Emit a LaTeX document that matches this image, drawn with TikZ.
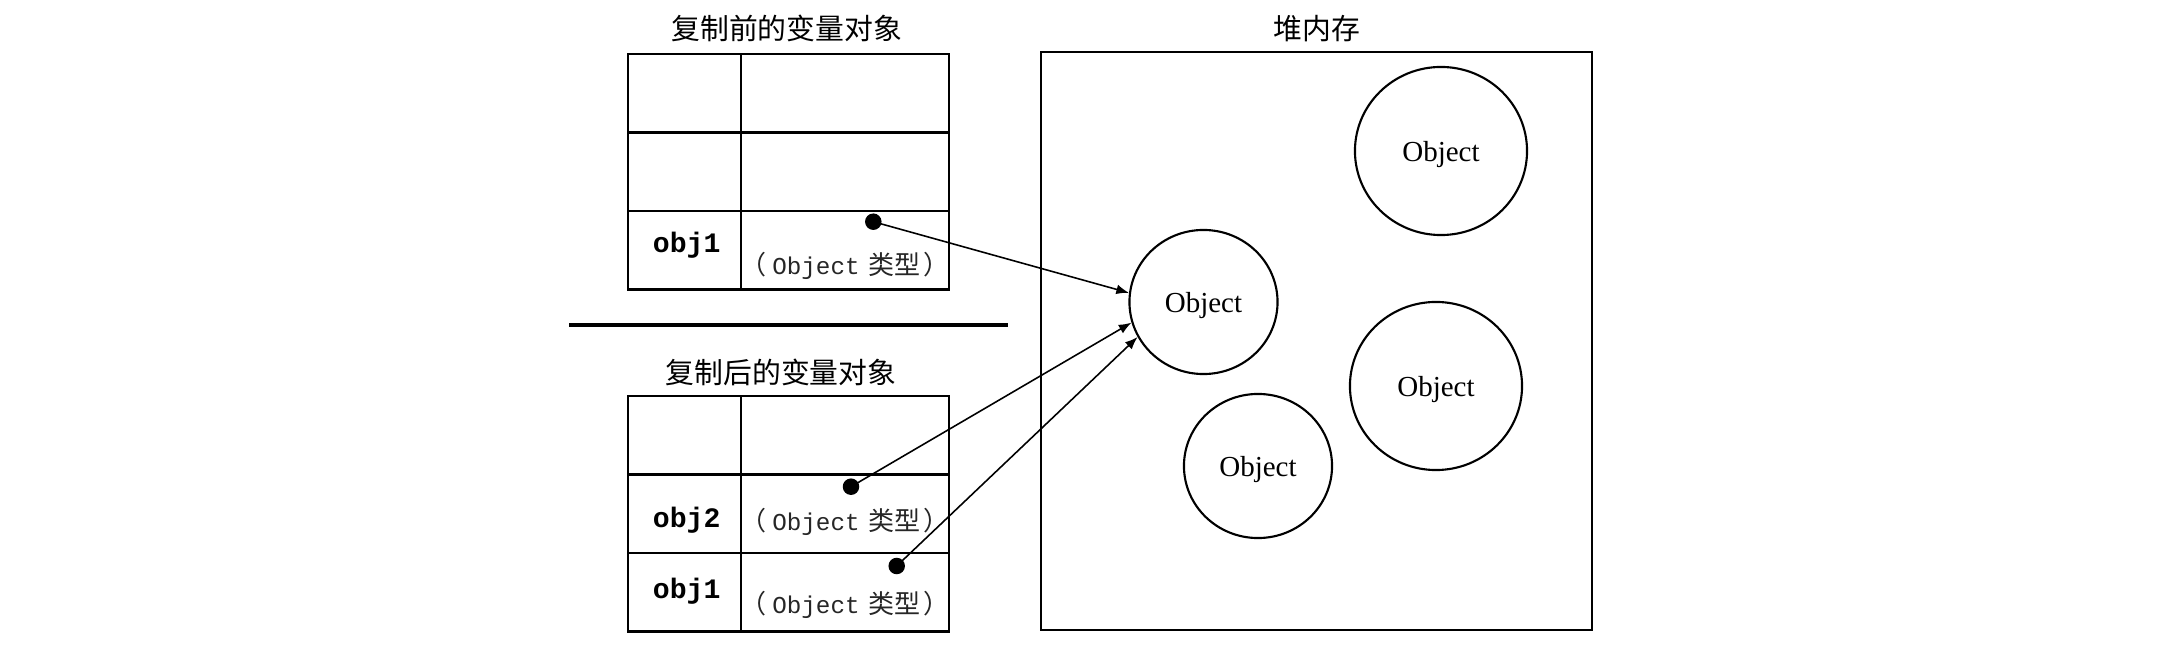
\documentclass[tikz,border=0pt]{standalone}
\usepackage{fontspec}
\setmainfont{Liberation Serif}
\newfontfamily\cjk{Noto Sans CJK SC}
\newfontfamily\monof{Liberation Mono}
\usetikzlibrary{shapes.geometric,arrows.meta}
\newcommand\objtypetxt{{\cjk\fontsize{7.4pt}{9pt}\selectfont （}\hspace{1.5pt}{\monof\fontsize{6.9pt}{9pt}\selectfont Object}\hspace{2.5pt}{\cjk\fontsize{7.4pt}{9pt}\selectfont 类型}\hspace{1pt}{\cjk\fontsize{7.4pt}{9pt}\selectfont ）}}
\begin{document}
\begin{tikzpicture}[x=0.01cm,y=-0.01cm,
  cell/.style={draw, line width=0.6pt, inner sep=0pt, minimum height=0.785cm},
  lcell/.style={cell, minimum width=1.127cm},
  rcell/.style={cell, minimum width=2.083cm},
  title/.style={inner sep=0pt, font=\cjk\fontsize{8.2pt}{9pt}\selectfont},
  varname/.style={inner sep=0pt, font=\monof\bfseries\fontsize{8pt}{9pt}\selectfont},
  typetxt/.style={inner sep=0pt, text=black!85},
  dotmark/.style={circle, fill=black, inner sep=0pt, minimum size=0.165cm},
  heapbox/.style={draw, line width=0.6pt, inner sep=0pt},
  obj/.style={ellipse, draw, line width=0.6pt, inner sep=0pt, text depth=0pt, font=\fontsize{8.25pt}{9pt}\selectfont},
  bigobj/.style={obj, minimum width=1.72cm, minimum height=1.68cm},
  smallobj/.style={obj, minimum width=1.48cm, minimum height=1.44cm},
  arr/.style={line width=0.45pt, -{Latex[length=3.6pt,width=2.8pt]}}
]
\useasboundingbox (0,0) rectangle (2162,664);

% titles
\node[title] (ttop) at (786.7,28.3) {复制前的变量对象};
\node[title] (tbot) at (781,372.5) {复制后的变量对象};
\node[title] (theap) at (1317,29) {堆内存};

% top table
\node[lcell] (ta1l) at (684.65,93.25) {};
\node[rcell] (ta1r) at (845.15,93.25) {};
\node[lcell] (ta2l) at (684.65,171.75) {};
\node[rcell] (ta2r) at (845.15,171.75) {};
\node[lcell] (ta3l) at (684.65,250.25) {};
\node[rcell] (ta3r) at (845.15,250.25) {};
\node[varname] (na3) at (686.7,245) {obj1};
\node[typetxt] (ya3) at (845.5,265.5) {\objtypetxt};

% separator
\draw[line width=1.1pt] (569.3,325) -- (1008.3,325);

% bottom table
\node[lcell] (tb1l) at (684.65,435.25) {};
\node[rcell] (tb1r) at (845.15,435.25) {};
\node[lcell] (tb2l) at (684.65,513.75) {};
\node[rcell] (tb2r) at (845.15,513.75) {};
\node[lcell] (tb3l) at (684.65,592.25) {};
\node[rcell] (tb3r) at (845.15,592.25) {};
\node[varname] (nb2) at (686.7,520) {obj2};
\node[typetxt] (yb2) at (845.5,521.7) {\objtypetxt};
\node[varname] (nb3) at (686.7,591.7) {obj1};
\node[typetxt] (yb3) at (845.5,605) {\objtypetxt};

% heap
\node[heapbox, minimum width=5.504cm, minimum height=5.779cm] (heap) at (1316.2,341.05) {};
\node[bigobj] (o1) at (1441,151) {Object};
\node[smallobj] (o2) at (1203.5,302) {Object};
\node[bigobj] (o3) at (1436,386) {Object};
\node[smallobj] (o4) at (1258,466) {Object};

% dots and arrows
\node[dotmark] (d1) at (873.3,221.7) {};
\node[dotmark] (d2) at (851,486.7) {};
\node[dotmark] (d3) at (896.7,566) {};
\draw[arr] (d1.center) -- (o2.173.6);
\draw[arr] (d2.center) -- (o2.196.4);
\draw[arr] (d3.center) -- (o2.208.9);
\end{tikzpicture}
\end{document}
